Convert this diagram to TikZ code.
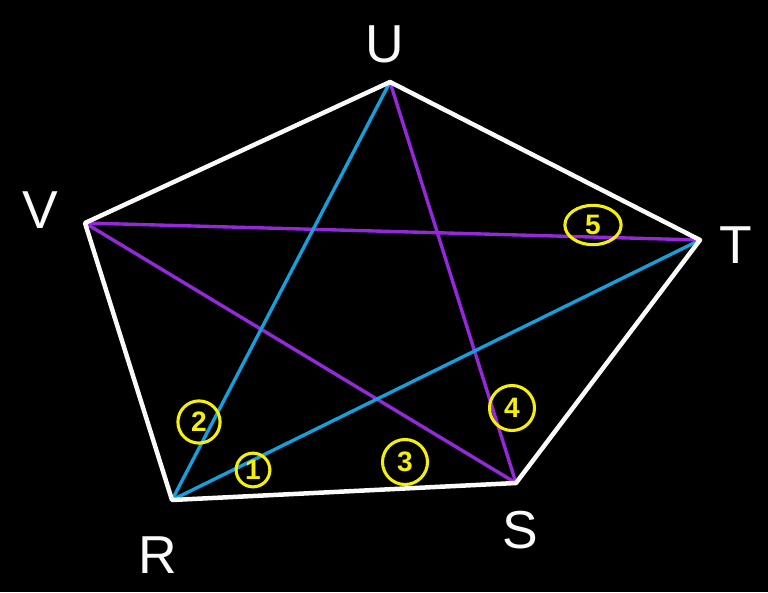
\documentclass[tikz,border=0pt]{standalone}
\usepackage{fontspec}
\setmainfont{Liberation Sans}
\usetikzlibrary{positioning,backgrounds,shapes.geometric}

\definecolor{chalk}{RGB}{250,250,250}
\definecolor{skyb}{RGB}{20,160,220}
\definecolor{viol}{RGB}{150,40,220}
\definecolor{marker}{RGB}{245,240,10}

\begin{document}
\begin{tikzpicture}[
  x=0.025cm, y=-0.025cm,
  line cap=round, line join=round,
  edge/.style={draw=chalk,line width=3.2pt},
  skyline/.style={draw=skyb,line width=2.4pt},
  purpline/.style={draw=viol,line width=2.4pt},
  vlbl/.style={text=chalk,font=\fontsize{38}{40}\selectfont},
  num/.style={draw=marker,text=marker,circle,line width=2.2pt,inner sep=1pt,
              minimum size=#1,font=\fontsize{20}{20}\selectfont\bfseries},
]

% --- background ---
\fill[black] (0,0) rectangle (768,592);
\useasboundingbox (0,0) rectangle (768,592);

% --- corners of the pentagon ---
\coordinate (U) at (390,82);
\coordinate (T) at (700,240);
\coordinate (S) at (516,483);
\coordinate (R) at (172,500);
\coordinate (V) at (85,223);

% --- diagonals ---
\draw[purpline] (V) -- (T);
\draw[purpline] (V) -- (S);
\draw[purpline] (U) -- (S);
\draw[skyline] (R) -- (U);
\draw[skyline] (R) -- (T);

% --- outer pentagon ---
\draw[edge] (V) -- (U) -- (T) -- (S) -- (R) -- cycle;

% --- corner labels ---
\node[vlbl] (lU) at (385,44)  {U};
\node[vlbl] (lT) at (736,245) {T};
\node[vlbl] (lS) at (520,530) {S};
\node[vlbl] (lR) at (158,555) {R};
\node[vlbl] (lV) at (40,210)  {V};

% --- circled numbers ---
\node[num=24pt] (n1) at (253,470) {1};
\node[num=30pt] (n2) at (199,422) {2};
\node[num=32pt] (n3) at (405,462) {3};
\node[num=32pt] (n4) at (512,408) {4};
\node[num=28pt,ellipse,minimum width=40pt] (n5) at (593,225) {5};

\end{tikzpicture}
\end{document}
